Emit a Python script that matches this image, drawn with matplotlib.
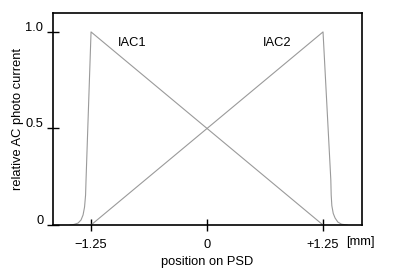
import matplotlib
matplotlib.use("Agg")
import matplotlib.pyplot as plt
from matplotlib.transforms import ScaledTranslation

plt.rcParams['font.family'] = ['Liberation Sans', 'DejaVu Sans']

# Data
iac1_x = [-1.476, -1.433, -1.390, -1.358, -1.336, -1.320, -1.309, -1.304, -1.25, 1.25]
iac1_y = [0.0, 0.003, 0.010, 0.026, 0.052, 0.093, 0.155, 0.233, 1.0, 0.0]
iac2_x = [-1.25, 1.25, 1.334, 1.338, 1.345, 1.36, 1.38, 1.41, 1.45, 1.51]
iac2_y = [0.0, 1.0, 0.233, 0.155, 0.10, 0.06, 0.036, 0.015, 0.004, 0.0]
xticks = [-1.25, 0, 1.25]
xticklabels = ['\u22121.25', '0', '+1.25']
yticks = [0, 0.5, 1.0]
yticklabels = ['0', '0.5', '1.0']

fig = plt.figure(figsize=(4.1, 2.74), dpi=100)
ax = fig.add_axes([53/410, 49/274, 309/410, 212/274])

ax.plot(iac1_x, iac1_y, color='#9a9a9a', lw=0.8)
ax.plot(iac2_x, iac2_y, color='#9a9a9a', lw=0.8)

ax.set_xlim(-1.66, 1.67)
ax.set_ylim(0, 1.098)

ax.set_xticks(xticks)
ax.set_xticklabels(xticklabels)
ax.set_yticks(yticks)
ax.set_yticklabels(yticklabels)
ax.tick_params(direction='inout', length=8, width=1.0, labelsize=9.3)
ax.tick_params(axis='x', pad=6)
ax.tick_params(axis='y', pad=3)
for s in ax.spines.values():
    s.set_linewidth(1.2)

for lab in ax.get_yticklabels():
    lab.set_transform(lab.get_transform() + ScaledTranslation(0, 4/72, fig.dpi_scale_trans))

ax.text(-0.808, 0.943, 'IAC1', fontsize=9.3, ha='center', va='center')
ax.text(0.754, 0.943, 'IAC2', fontsize=9.3, ha='center', va='center')

ax.set_xlabel('position on PSD', fontsize=9.3, labelpad=4)
ax.set_ylabel('relative AC photo current', fontsize=9.3, labelpad=1)
ax.text(1.649, -0.09, '[mm]', fontsize=9.3, ha='center', va='center',
        transform=ax.transData, clip_on=False)

fig.savefig('out.png', dpi=100)
